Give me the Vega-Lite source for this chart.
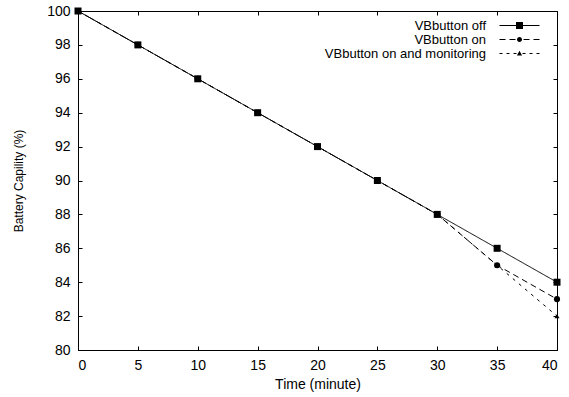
{
  "$schema": "https://vega.github.io/schema/vega-lite/v6.json",
  "width": 479,
  "height": 339,
  "autosize": {"type": "none"},
  "padding": {"left": 78, "top": 11, "right": 12, "bottom": 47},
  "background": "white",
  "config": {
    "font": "Liberation Sans",
    "view": {"stroke": "black", "strokeWidth": 1},
    "axis": {
      "grid": false,
      "domainColor": "black",
      "tickColor": "black",
      "tickSize": -4,
      "labelColor": "black",
      "labelFontSize": 14,
      "labelFont": "Liberation Sans",
      "titleFont": "Liberation Sans",
      "titleFontSize": 14,
      "titleFontWeight": "normal",
      "titleColor": "black"
    }
  },
  "data": {
    "values": [
      {"series": "VBbutton on and monitoring", "time": 0, "cap": 100},
      {"series": "VBbutton on and monitoring", "time": 5, "cap": 98},
      {"series": "VBbutton on and monitoring", "time": 10, "cap": 96},
      {"series": "VBbutton on and monitoring", "time": 15, "cap": 94},
      {"series": "VBbutton on and monitoring", "time": 20, "cap": 92},
      {"series": "VBbutton on and monitoring", "time": 25, "cap": 90},
      {"series": "VBbutton on and monitoring", "time": 30, "cap": 88},
      {"series": "VBbutton on and monitoring", "time": 35, "cap": 85},
      {"series": "VBbutton on and monitoring", "time": 40, "cap": 82},
      {"series": "VBbutton on", "time": 0, "cap": 100},
      {"series": "VBbutton on", "time": 5, "cap": 98},
      {"series": "VBbutton on", "time": 10, "cap": 96},
      {"series": "VBbutton on", "time": 15, "cap": 94},
      {"series": "VBbutton on", "time": 20, "cap": 92},
      {"series": "VBbutton on", "time": 25, "cap": 90},
      {"series": "VBbutton on", "time": 30, "cap": 88},
      {"series": "VBbutton on", "time": 35, "cap": 85},
      {"series": "VBbutton on", "time": 40, "cap": 83},
      {"series": "VBbutton off", "time": 0, "cap": 100},
      {"series": "VBbutton off", "time": 5, "cap": 98},
      {"series": "VBbutton off", "time": 10, "cap": 96},
      {"series": "VBbutton off", "time": 15, "cap": 94},
      {"series": "VBbutton off", "time": 20, "cap": 92},
      {"series": "VBbutton off", "time": 25, "cap": 90},
      {"series": "VBbutton off", "time": 30, "cap": 88},
      {"series": "VBbutton off", "time": 35, "cap": 86},
      {"series": "VBbutton off", "time": 40, "cap": 84}
    ]
  },
  "resolve": {
    "axis": {"x": "independent", "y": "independent"},
    "scale": {"shape": "independent"}
  },
  "layer": [
    {
      "mark": {"type": "line", "color": "black", "strokeWidth": 1},
      "encoding": {
        "x": {
          "field": "time", "type": "quantitative",
          "scale": {"domain": [0, 40], "nice": false},
          "axis": {"orient": "bottom", "values": [0, 5, 10, 15, 20, 25, 30, 35, 40], "labelPadding": 12, "title": "Time (minute)", "titlePadding": 5}
        },
        "y": {
          "field": "cap", "type": "quantitative",
          "scale": {"domain": [80, 100], "nice": false, "zero": false},
          "axis": {"orient": "left", "values": [80, 82, 84, 86, 88, 90, 92, 94, 96, 98, 100], "labelPadding": 12, "title": "Battery Capility (%)", "titleFontSize": 12, "titlePadding": 21}
        },
        "strokeDash": {
          "field": "series", "type": "nominal",
          "scale": {"domain": ["VBbutton off", "VBbutton on", "VBbutton on and monitoring"], "range": [[1, 0], [6, 4], [3, 5]]},
          "legend": null
        }
      }
    },
    {
      "mark": {"type": "point", "filled": true, "color": "black", "opacity": 1, "size": 30},
      "encoding": {
        "x": {
          "field": "time", "type": "quantitative",
          "scale": {"domain": [0, 40], "nice": false},
          "axis": {"orient": "top", "values": [0, 5, 10, 15, 20, 25, 30, 35, 40], "labels": false, "title": null, "domain": false}
        },
        "y": {
          "field": "cap", "type": "quantitative",
          "scale": {"domain": [80, 100], "nice": false, "zero": false},
          "axis": {"orient": "right", "values": [80, 82, 84, 86, 88, 90, 92, 94, 96, 98, 100], "labels": false, "title": null, "domain": false}
        },
        "shape": {
          "field": "series", "type": "nominal",
          "scale": {"domain": ["VBbutton off", "VBbutton on", "VBbutton on and monitoring"], "range": ["square", "circle", "triangle-up"]},
          "legend": null
        },
        "size": {
          "field": "series", "type": "nominal",
          "scale": {"domain": ["VBbutton off", "VBbutton on", "VBbutton on and monitoring"], "range": [49, 25, 25]},
          "legend": null
        }
      }
    },
    {
      "transform": [{"filter": "datum.time < 0"}],
      "mark": {"type": "point", "filled": true, "color": "black", "opacity": 1},
      "encoding": {
        "shape": {
          "field": "series", "type": "nominal",
          "scale": {
            "domain": ["VBbutton off", "VBbutton on", "VBbutton on and monitoring"],
            "range": [
              "M-4,-0.1H4V0.1H-4Z M-0.7,-0.7H0.7V0.7H-0.7Z",
              "M-4,-0.1H-2.8V0.1H-4Z M-2,-0.1H-0.8V0.1H-2Z M0.8,-0.1H2V0.1H0.8Z M2.8,-0.1H4V0.1H2.8Z M-0.5,0A0.5,0.5 0 1,0 0.5,0A0.5,0.5 0 1,0 -0.5,0Z",
              "M-4,-0.1H-3.4V0.1H-4Z M-2.6,-0.1H-2V0.1H-2.6Z M-1.2,-0.1H-0.6V0.1H-1.2Z M0.6,-0.1H1.2V0.1H0.6Z M2,-0.1H2.6V0.1H2Z M3.4,-0.1H4V0.1H3.4Z M0,-0.56L0.52,0.4H-0.52Z"
            ]
          },
          "legend": {
            "title": null,
            "orient": "none",
            "legendX": 435,
            "legendY": 8,
            "symbolSize": 100,
            "symbolStrokeWidth": 0,
            "symbolFillColor": "black",
            "labelAlign": "right",
            "labelOffset": -40,
            "labelLimit": 400,
            "labelFontSize": 13,
            "labelFont": "Liberation Sans",
            "labelColor": "black",
            "rowPadding": -1,
            "padding": 0
          }
        }
      }
    }
  ]
}
